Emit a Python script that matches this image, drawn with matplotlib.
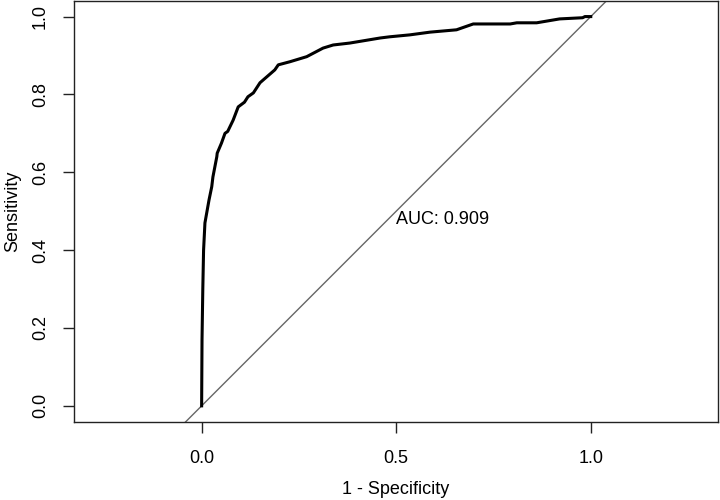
import matplotlib
matplotlib.use("Agg")
import matplotlib.pyplot as plt

# ROC curve
fpr = [0.0, 0.001, 0.003, 0.005, 0.0085, 0.019, 0.026, 0.029, 0.039, 0.040,
       0.051, 0.060, 0.067, 0.081, 0.094, 0.110, 0.119, 0.133, 0.150, 0.158,
       0.188, 0.197, 0.227, 0.270, 0.312, 0.338, 0.381, 0.459, 0.483, 0.535,
       0.587, 0.655, 0.698, 0.793, 0.810, 0.861, 0.920, 0.979, 0.985, 1.0]
tpr = [0.0, 0.170, 0.300, 0.400, 0.470, 0.529, 0.563, 0.588, 0.640, 0.649,
       0.675, 0.700, 0.705, 0.734, 0.768, 0.780, 0.794, 0.804, 0.830, 0.837,
       0.863, 0.876, 0.884, 0.897, 0.919, 0.927, 0.932, 0.945, 0.948, 0.953,
       0.960, 0.966, 0.981, 0.981, 0.984, 0.984, 0.994, 0.997, 1.0, 1.0]
auc_label = "AUC: 0.909"
xticks = [0.0, 0.5, 1.0]
yticks = [0.0, 0.2, 0.4, 0.6, 0.8, 1.0]

plt.rcParams['font.family'] = ['Liberation Sans', 'DejaVu Sans']
plt.rcParams['font.size'] = 13

fig = plt.figure(figsize=(7.2, 5.0), dpi=100)
ax = fig.add_axes([74 / 720, 1 - 422 / 500, (718 - 74) / 720, (422 - 1) / 500])

ax.axline((0, 0), (1, 1), color='#666666', linewidth=1.0)
ax.plot(fpr, tpr, color='black', linewidth=2.2, solid_joinstyle='round')
ax.text(0.5, 0.5, auc_label, ha='left', va='top', fontsize=13)

ax.set_xlim(-0.328, 1.327)
ax.set_ylim(-0.0415, 1.04)
ax.set_xticks(xticks)
ax.set_xticklabels(["%.1f" % v for v in xticks])
ax.set_yticks(yticks)
ax.set_yticklabels(["%.1f" % v for v in yticks], rotation=90, va='center')
ax.tick_params(direction='out', length=8, width=1.0, color='#222222', pad=10)
ax.tick_params(axis='x', pad=12)
for s in ax.spines.values():
    s.set_linewidth(1.0)
    s.set_color('#222222')

ax.set_xlabel("1 - Specificity", labelpad=10)
ax.set_ylabel("Sensitivity", labelpad=8)

fig.savefig("out.png", dpi=100)
